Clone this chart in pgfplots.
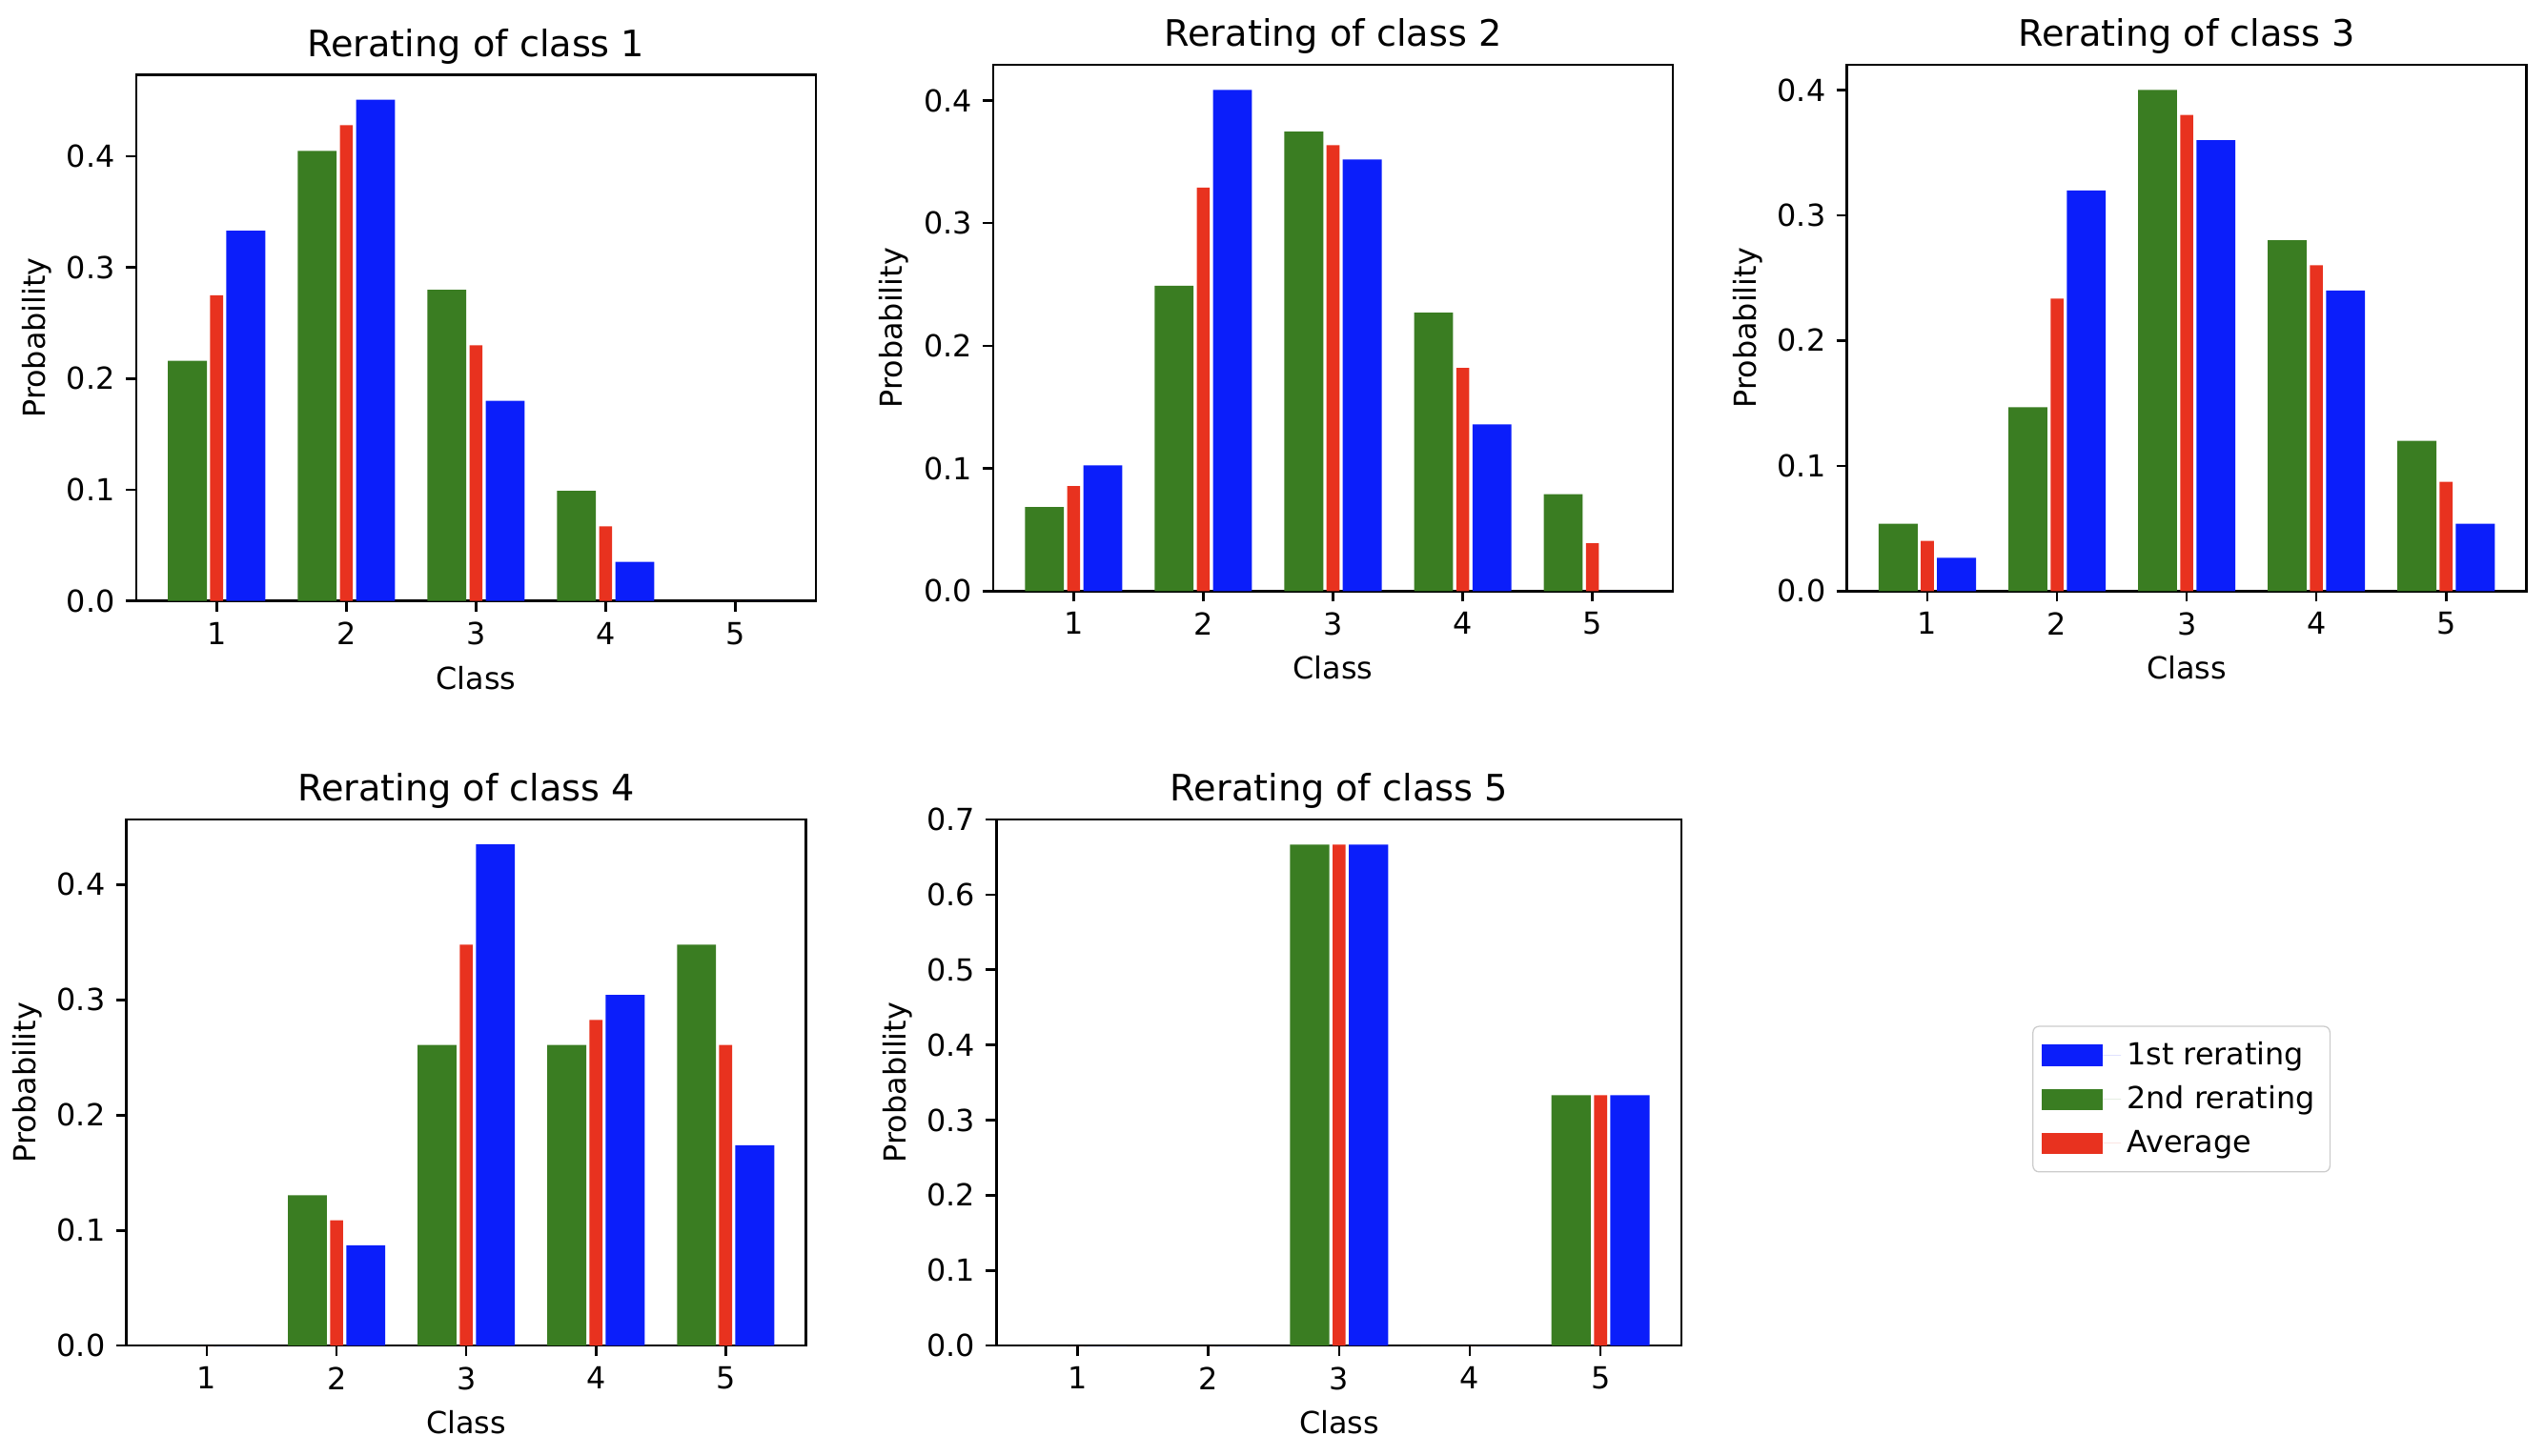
\documentclass[border=0pt]{standalone}
\usepackage{fontspec}
\setmainfont{DejaVu Sans}
\usepackage{pgfplots}
\pgfplotsset{compat=1.18}
\definecolor{cblue}{HTML}{0B1EFA}
\definecolor{cgreen}{HTML}{3A7D22}
\definecolor{cred}{HTML}{E8321F}
\pgfplotsset{
  common/.style={
    scale only axis, width=224pt, height=173.5pt,
    xmin=0.38, xmax=5.62, ymin=0,
    xtick={1,2,3,4,5},
    tick align=outside, major tick length=3.5pt,
    tick pos=left,
    every tick/.style={black, line width=0.8pt},
    axis line style={line width=0.8pt},
    /pgf/number format/assume math mode=true,
    yticklabel style={/pgf/number format/fixed, /pgf/number format/fixed zerofill, /pgf/number format/precision=1},
    ticklabel style={font=\fontsize{10}{12}\selectfont},
    label style={font=\fontsize{10}{12}\selectfont},
    title style={font=\fontsize{12}{14.4}\selectfont, yshift=-6pt},
    xlabel={Class}, ylabel={Probability},
    ylabel style={yshift=-2pt},
  },
  gbar/.style={ybar, bar width=0.3, bar shift=-0.225, fill=cgreen, draw=none},
  rbar/.style={ybar, bar width=0.1, bar shift=0, fill=cred, draw=none},
  bbar/.style={ybar, bar width=0.3, bar shift=0.225, fill=cblue, draw=none},
}
\begin{document}
\begin{tikzpicture}
\useasboundingbox (0,0) rectangle (838.9pt,-479.9pt);
% Plot 1
\begin{axis}[common, at={(44.9pt,-24.6pt)}, anchor=north west, ymax=0.4736,
  ytick={0,0.1,0.2,0.3,0.4}, title={Rerating of class 1}]
\addplot[gbar] coordinates {(1,0.216) (2,0.405) (3,0.280) (4,0.099) (5,0)};
\addplot[rbar] coordinates {(1,0.275) (2,0.428) (3,0.230) (4,0.067) (5,0)};
\addplot[bbar] coordinates {(1,0.333) (2,0.451) (3,0.180) (4,0.035) (5,0)};
\end{axis}
% Plot 2
\begin{axis}[common, at={(327.4pt,-21.4pt)}, anchor=north west, ymax=0.429,
  ytick={0,0.1,0.2,0.3,0.4}, title={Rerating of class 2}]
\addplot[gbar] coordinates {(1,0.0686) (2,0.249) (3,0.3746) (4,0.227) (5,0.079)};
\addplot[rbar] coordinates {(1,0.0857) (2,0.329) (3,0.3636) (4,0.182) (5,0.039)};
\addplot[bbar] coordinates {(1,0.1025) (2,0.4086) (3,0.3518) (4,0.136) (5,0)};
\end{axis}
% Plot 3
\begin{axis}[common, at={(608.8pt,-21.4pt)}, anchor=north west, ymax=0.42,
  ytick={0,0.1,0.2,0.3,0.4}, title={Rerating of class 3}]
\addplot[gbar] coordinates {(1,0.0538) (2,0.1467) (3,0.400) (4,0.280) (5,0.120)};
\addplot[rbar] coordinates {(1,0.040) (2,0.2334) (3,0.380) (4,0.260) (5,0.0873)};
\addplot[bbar] coordinates {(1,0.0266) (2,0.3197) (3,0.360) (4,0.240) (5,0.0538)};
\end{axis}
% Plot 4
\begin{axis}[common, at={(41.7pt,-270.2pt)}, anchor=north west, ymax=0.4565,
  ytick={0,0.1,0.2,0.3,0.4}, title={Rerating of class 4}]
\addplot[gbar] coordinates {(1,0) (2,0.1304) (3,0.2609) (4,0.2609) (5,0.3478)};
\addplot[rbar] coordinates {(1,0) (2,0.1087) (3,0.3478) (4,0.2826) (5,0.2609)};
\addplot[bbar] coordinates {(1,0) (2,0.0870) (3,0.4348) (4,0.3043) (5,0.1739)};
\end{axis}
% Plot 5 with legend
\begin{axis}[common, at={(328.5pt,-270.2pt)}, anchor=north west, width=225.8pt, ymax=0.7,
  ytick={0,0.1,0.2,0.3,0.4,0.5,0.6,0.7}, title={Rerating of class 5},
  legend style={at={(1.512,0.608)}, anchor=north west, draw=black!20, rounded corners=2pt,
    fill=white, font=\fontsize{10}{12}\selectfont, inner xsep=3pt, inner ysep=3pt,
    row sep=1.5pt},
  legend cell align=left,
  legend image code/.code={\fill[#1,draw=none,sharp corners] (0pt,-3.5pt) rectangle (20pt,3.5pt); \path (0pt,0pt) -- (26pt,0pt);}]
\addplot[bbar] coordinates {(1,0) (2,0) (3,0.6667) (4,0) (5,0.3333)};
\addlegendentry{1st rerating}
\addplot[gbar] coordinates {(1,0) (2,0) (3,0.6667) (4,0) (5,0.3333)};
\addlegendentry{2nd rerating}
\addplot[rbar] coordinates {(1,0) (2,0) (3,0.6667) (4,0) (5,0.3333)};
\addlegendentry{Average}
\end{axis}
\end{tikzpicture}
\end{document}
